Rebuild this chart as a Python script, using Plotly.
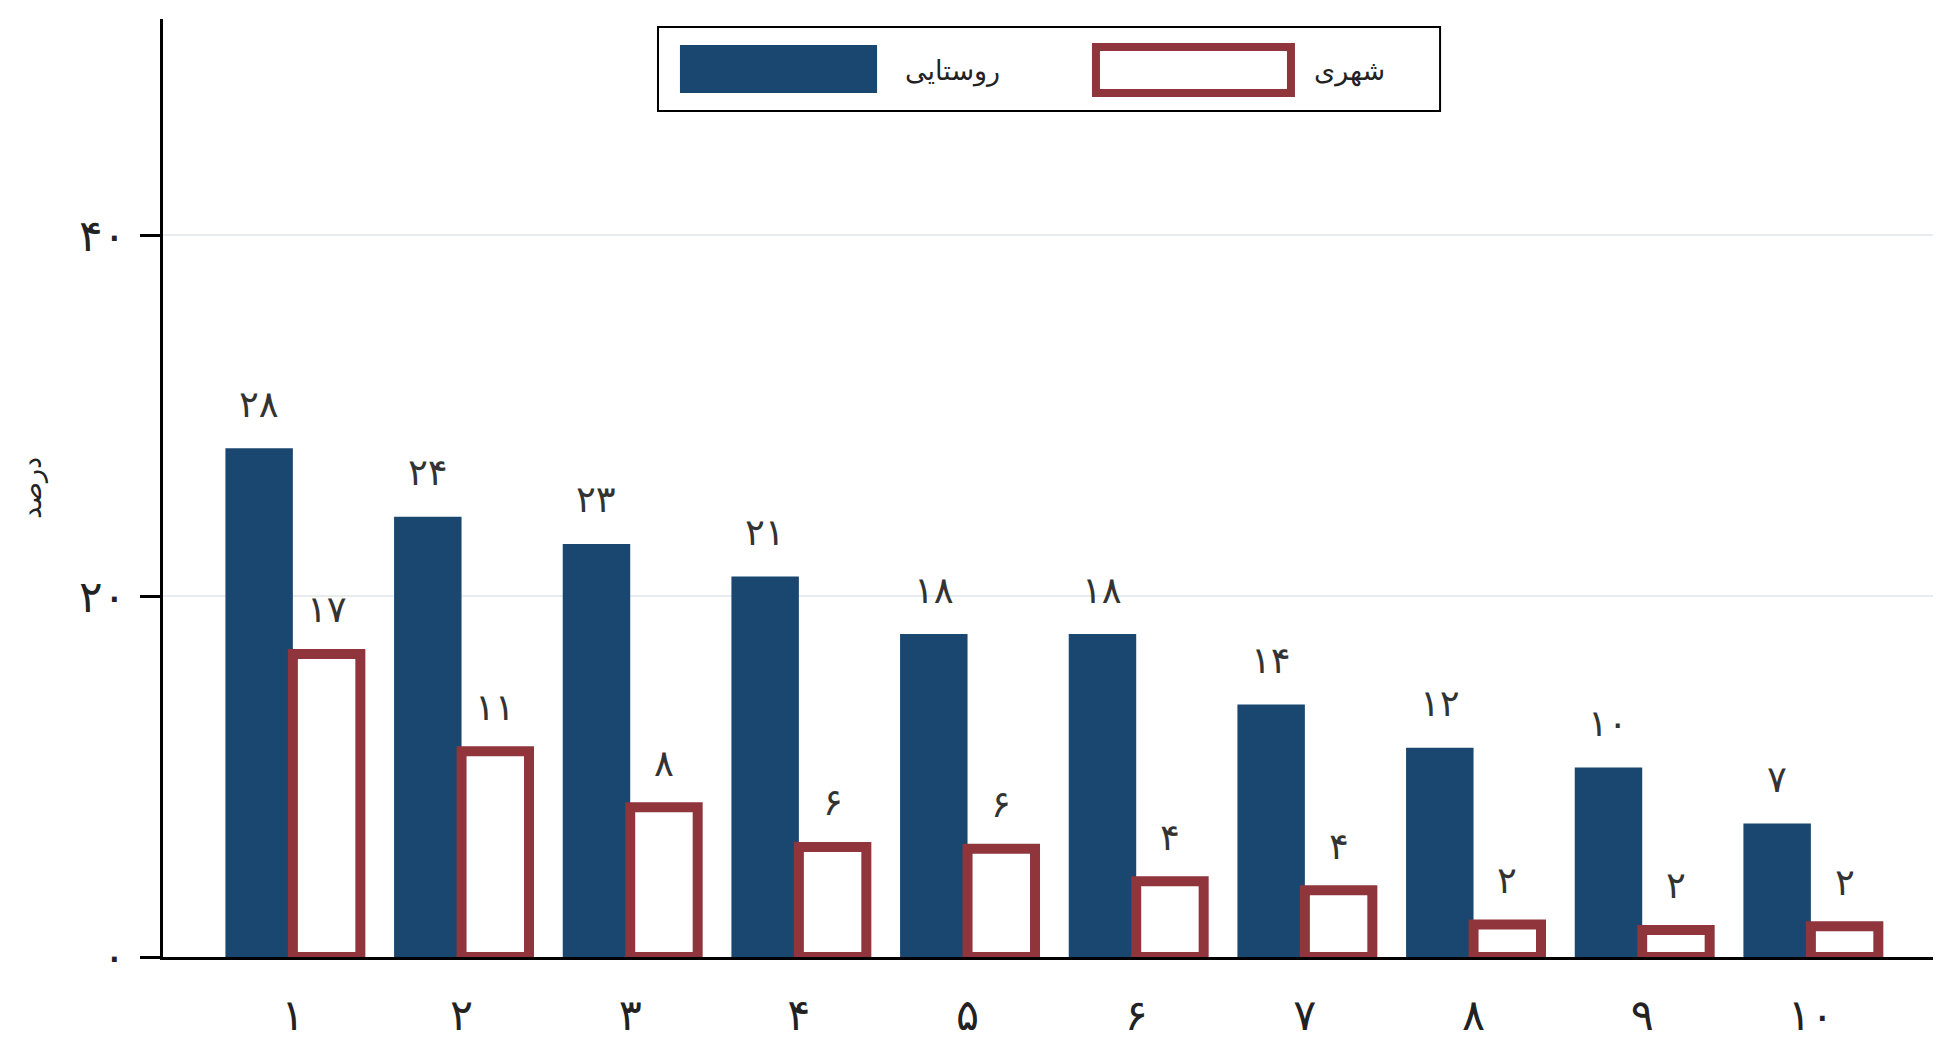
import plotly.graph_objects as go

# deciles 1..10, share (%) for rural and urban households
categories = [1, 2, 3, 4, 5, 6, 7, 8, 9, 10]
category_labels = ["۱", "۲", "۳", "۴", "۵", "۶", "۷", "۸", "۹", "۱۰"]

rural = [28.2, 24.4, 22.9, 21.1, 17.9, 17.9, 14.0, 11.6, 10.5, 7.4]
rural_labels = ["۲۸", "۲۴", "۲۳", "۲۱", "۱۸", "۱۸", "۱۴", "۱۲", "۱۰", "۷"]

urban = [16.8, 11.4, 8.3, 6.1, 6.0, 4.2, 3.7, 1.8, 1.5, 1.7]
urban_labels = ["۱۷", "۱۱", "۸", "۶", "۶", "۴", "۴", "۲", "۲", "۲"]

y_ticks = [0, 20, 40]
y_tick_labels = ["۰", "۲۰", "۴۰"]

NAVY = "#1a476f"
MAROON = "#90353b"
FONT = "DejaVu Sans"
INK = "#222222"
BARGAP = 0.2

fig = go.Figure()

fig.add_trace(go.Bar(
    x=categories, y=rural, name="روستایی",
    marker=dict(color=NAVY, line=dict(width=0)),
    showlegend=False,
))
fig.add_trace(go.Bar(
    x=categories, y=urban, name="شهری",
    marker=dict(color="white", line=dict(color=MAROON, width=10)),
    showlegend=False,
))

# value labels above each bar (group offset = a quarter of the group width)
offset = (1 - BARGAP) / 4
for c, v, t in zip(categories, rural, rural_labels):
    fig.add_annotation(x=c - offset, y=v, text=t, showarrow=False, yshift=44,
                       xanchor="center", yanchor="middle",
                       font=dict(family=FONT, size=37, color="#333333"))
for c, v, t in zip(categories, urban, urban_labels):
    fig.add_annotation(x=c + offset, y=v, text=t, showarrow=False, yshift=44,
                       xanchor="center", yanchor="middle",
                       font=dict(family=FONT, size=37, color="#333333"))

# hand-drawn legend box, Stata style
fig.add_shape(type="rect", xref="paper", yref="paper",
              x0=0.2795, x1=0.7211, y0=0.9019, y1=0.9915,
              line=dict(color="black", width=2), fillcolor="white")
fig.add_shape(type="rect", xref="paper", yref="paper",
              x0=0.2919, x1=0.4032, y0=0.9211, y1=0.9723,
              line=dict(width=0), fillcolor=NAVY)
fig.add_shape(type="rect", xref="paper", yref="paper",
              x0=0.5268, x1=0.6369, y0=0.9211, y1=0.9701,
              line=dict(color=MAROON, width=8), fillcolor="white")
fig.add_annotation(xref="paper", yref="paper", x=0.418, y=0.9445,
                   text="روستایی", showarrow=False,
                   xanchor="left", yanchor="middle",
                   font=dict(family=FONT, size=27, color=INK))
fig.add_annotation(xref="paper", yref="paper", x=0.649, y=0.9445,
                   text="شهری", showarrow=False,
                   xanchor="left", yanchor="middle",
                   font=dict(family=FONT, size=27, color=INK))

# the page body adds an 8px margin, so the figure is 8px smaller than the window
fig.update_layout(
    width=1933, height=1032,
    margin=dict(l=155, r=7, t=11, b=83),
    paper_bgcolor="white", plot_bgcolor="white",
    barmode="group", bargap=BARGAP, bargroupgap=0,
    font=dict(family=FONT, color=INK),
    xaxis=dict(
        range=[0.23, 10.73],
        tickvals=categories, ticktext=category_labels,
        tickfont=dict(size=43, color=INK),
        ticks="", ticklabelstandoff=18,
        automargin=False,
        showgrid=False, zeroline=False,
        showline=True, linecolor="black", linewidth=3,
    ),
    yaxis=dict(
        range=[0, 52],
        tickvals=y_ticks, ticktext=y_tick_labels,
        tickfont=dict(size=44, color=INK),
        ticks="outside", ticklen=20, tickwidth=3, tickcolor="black",
        ticklabelstandoff=5,
        automargin=False,
        showgrid=True, gridcolor="#e9ecee", gridwidth=2,
        zeroline=False,
        showline=True, linecolor="black", linewidth=3,
        title=dict(text="درصد", standoff=30,
                   font=dict(family=FONT, size=27, color=INK)),
    ),
)

fig.write_html("out.html")
